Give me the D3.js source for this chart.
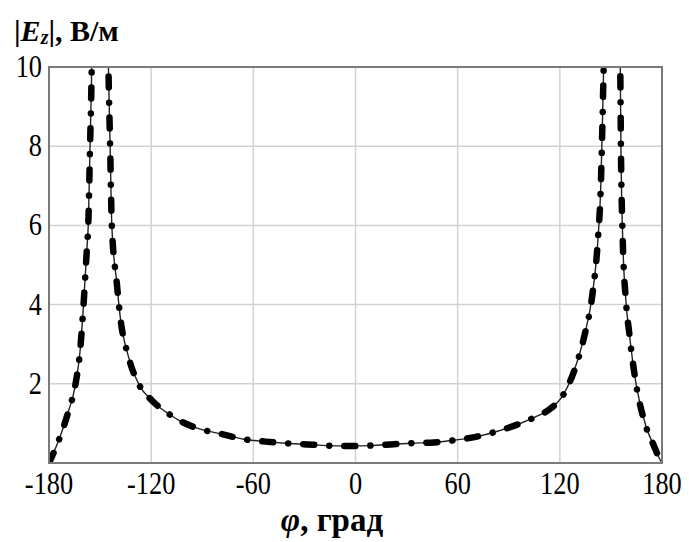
<!DOCTYPE html>
<html>
<head>
<meta charset="utf-8">
<script src="https://cdn.jsdelivr.net/npm/d3@7"></script>
<style>
  body { margin: 0; background: #fff; }
  text { font-family: "Liberation Serif", "Times New Roman", serif; fill: #000; }
</style>
</head>
<body>
<svg id="chart" width="689" height="542"></svg>
<script>
// data (null = curve leaves the plot between the peaks)
const phi = [-180, -173.5, -168.6, -164.7, -161.8, -159.8, -157.8, -156.9, -155.9, -155.2, -154.6,
  -150,
  -145.4, -145.1, -144.1, -143.1, -140.2, -138.2, -133.3, -126.5, -120, -116.6, -110, -102.9, -93,
  -78.4, -65.7, -52.9, -41.2, -28.4, -16.6, -3.9, 8.8, 20.6, 32.4, 46.1, 58.8, 70.6, 82.4, 95, 105,
  114.7, 120.6, 127.5, 134.3, 139.2, 142.2, 144.1, 145.1, 145.7, 146.2,
  150,
  155.2, 155.5, 155.9, 156.9, 158.8, 160.8, 164.7, 170.6, 175.5, 178.4, 180];
const ez = [0, 0.66, 1.3, 1.93, 2.81, 3.95, 5.38, 6.06, 7.99, 9.3, 10.8,
  null,
  10.8, 10, 8, 6, 4.55, 3.7, 2.68, 1.93, 1.6, 1.46, 1.25, 1.06, 0.88,
  0.73, 0.6, 0.54, 0.5, 0.47, 0.44, 0.43, 0.44, 0.47, 0.5, 0.52, 0.58, 0.66, 0.79, 0.97, 1.15,
  1.38, 1.63, 2.22, 3.19, 4.28, 5.54, 7.06, 8.74, 9.92, 10.8,
  null,
  10.8, 9.92, 7.9, 5.71, 4.1, 3.27, 2.01, 0.92, 0.41, 0.12, 0];

const xTicks = [-180, -120, -60, 0, 60, 120, 180];
const yTicks = [2, 4, 6, 8, 10];

const svg = d3.select("#chart");

const x = d3.scaleLinear().domain([-180, 180]).range([49, 662]);
const y = d3.scaleLinear().domain([0, 10]).range([463, 67]);

const points = phi.map((p, i) => ({ p, v: ez[i] }));

svg.append("defs").append("clipPath")
  .attr("id", "plot-clip")
  .append("rect")
  .attr("x", x(-180)).attr("y", y(10))
  .attr("width", x(180) - x(-180)).attr("height", y(0) - y(10));

// grid
svg.append("g")
  .selectAll("line")
  .data(xTicks.slice(1, -1))
  .join("line")
  .attr("x1", d => x(d)).attr("x2", d => x(d))
  .attr("y1", y(10)).attr("y2", y(0))
  .attr("stroke", "#d2d2d2").attr("stroke-width", 1.5);

svg.append("g")
  .selectAll("line")
  .data(yTicks.slice(0, -1))
  .join("line")
  .attr("x1", x(-180)).attr("x2", x(180))
  .attr("y1", d => y(d)).attr("y2", d => y(d))
  .attr("stroke", "#d2d2d2").attr("stroke-width", 1.5);

// curve: thin line under a thick dash-dot
const line = d3.line()
  .defined(d => d.v !== null)
  .x(d => x(d.p))
  .y(d => y(d.v))
  .curve(d3.curveMonotoneX);

const curve = svg.append("g").attr("clip-path", "url(#plot-clip)");

curve.append("path")
  .datum(points)
  .attr("d", line)
  .attr("fill", "none")
  .attr("stroke", "#222")
  .attr("stroke-width", 1.4);

curve.append("path")
  .datum(points)
  .attr("d", line)
  .attr("fill", "none")
  .attr("stroke", "#000")
  .attr("stroke-width", 6.5)
  .attr("stroke-linecap", "round")
  .attr("stroke-dasharray", "11,15,0.1,15");

// frame
svg.append("rect")
  .attr("x", x(-180)).attr("y", y(10))
  .attr("width", x(180) - x(-180)).attr("height", y(0) - y(10))
  .attr("fill", "none")
  .attr("stroke", "#7a7a7a")
  .attr("stroke-width", 2);

// tick labels (narrow serif digits)
svg.append("g")
  .selectAll("text")
  .data(xTicks)
  .join("text")
  .attr("transform", d => `translate(${x(d)},494) scale(0.85,1)`)
  .attr("text-anchor", "middle")
  .style("font-size", "31px")
  .text(d => d);

svg.append("g")
  .selectAll("text")
  .data(yTicks)
  .join("text")
  .attr("transform", d => `translate(42,${y(d) + 10}) scale(0.85,1)`)
  .attr("text-anchor", "end")
  .style("font-size", "31px")
  .text(d => d);

// axis titles
const yTitle = svg.append("text")
  .attr("x", 14)
  .attr("y", 41)
  .style("font-size", "30px")
  .style("font-weight", "bold");
yTitle.append("tspan").text("|");
yTitle.append("tspan").style("font-style", "italic").text("E");
yTitle.append("tspan").style("font-style", "italic").style("font-size", "20px").attr("dy", 3).text("z");
yTitle.append("tspan").attr("dy", -3).text("|, В/м");

const xTitle = svg.append("text")
  .attr("x", 332)
  .attr("y", 531)
  .attr("text-anchor", "middle")
  .style("font-size", "33px")
  .style("font-weight", "bold");
xTitle.append("tspan").style("font-style", "italic").text("φ");
xTitle.append("tspan").text(", град");
</script>
</body>
</html>
